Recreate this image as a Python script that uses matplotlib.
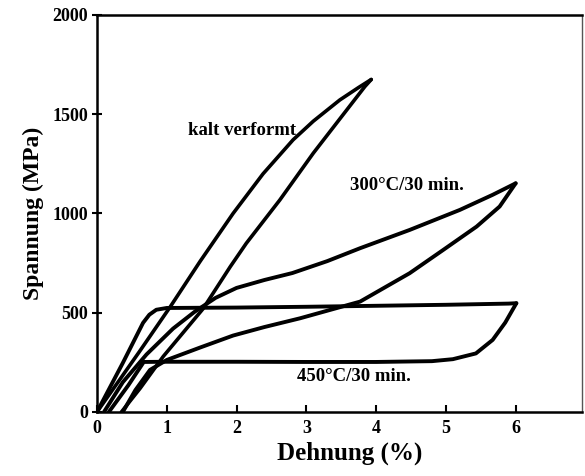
import matplotlib.pyplot as plt

# strain (%) / stress (MPa)
kalt_load_x = [0.0, 0.28, 0.6, 1.05, 1.48, 1.95, 2.38, 2.81, 3.1, 3.48, 3.75, 3.93]
kalt_load_y = [0, 140, 300, 530, 760, 1000, 1200, 1371, 1465, 1572, 1635, 1675]
kalt_unload_x = [3.93, 3.84, 3.58, 3.1, 2.62, 2.14, 1.91, 1.52, 0.95, 0.62, 0.35]
kalt_unload_y = [1675, 1640, 1522, 1304, 1068, 850, 732, 520, 280, 120, 0]

c300_load_x = [0.1, 0.37, 0.71, 1.09, 1.4, 1.7, 2.0, 2.4, 2.8, 3.3, 3.77, 4.48, 5.2, 5.67, 6.0]
c300_load_y = [0, 150, 290, 420, 505, 575, 625, 665, 700, 760, 825, 917, 1018, 1094, 1152]
c300_unload_x = [6.0, 5.77, 5.44, 4.96, 4.48, 3.77, 3.4, 2.91, 2.4, 1.95, 1.48, 1.0, 0.76, 0.55, 0.37]
c300_unload_y = [1152, 1035, 934, 816, 699, 556, 520, 472, 428, 385, 325, 262, 212, 110, 0]

c450_load_x = [0.0, 0.37, 0.66, 0.75, 0.85, 1.0, 2.0, 3.0, 4.0, 5.0, 5.9, 6.01]
c450_load_y = [0, 247, 449, 490, 515, 524, 526, 530, 535, 540, 546, 548]
c450_unload_x = [6.01, 5.85, 5.67, 5.43, 5.1, 4.8, 4.0, 3.0, 2.0, 1.0, 0.67, 0.45, 0.17]
c450_unload_y = [548, 450, 363, 295, 266, 256, 252, 252, 253, 253, 252, 135, 0]

plt.rcParams['font.family'] = ['Liberation Serif', 'DejaVu Serif']
plt.rcParams['font.weight'] = 'bold'

fig = plt.figure(figsize=(5.85, 4.76), dpi=100)
ax = fig.add_axes([0.1658, 0.1345, 0.829, 0.834])

for xs, ys, lw in [(kalt_load_x, kalt_load_y, 2.6), (kalt_unload_x, kalt_unload_y, 2.6),
                   (c300_load_x, c300_load_y, 2.8), (c300_unload_x, c300_unload_y, 2.8),
                   (c450_load_x, c450_load_y, 2.8), (c450_unload_x, c450_unload_y, 2.8)]:
    ax.plot(xs, ys, color='black', lw=lw, solid_joinstyle='round', solid_capstyle='round')

ax.text(1.3, 1416, 'kalt verformt', fontsize=13.5, fontweight='bold', va='center')
ax.text(3.62, 1139, '300°C/30 min.', fontsize=13.5, fontweight='bold', va='center')
ax.text(2.87, 181, '450°C/30 min.', fontsize=13.5, fontweight='bold', va='center')

ax.set_xlim(0, 6.95)
ax.set_ylim(0, 2000)
ax.set_xticks([0, 1, 2, 3, 4, 5, 6])
ax.set_yticks([0, 500, 1000, 1500, 2000])
ax.tick_params(axis='x', direction='in', length=5, width=1.5, labelsize=13, pad=6)
ax.tick_params(axis='y', direction='inout', length=7, width=1.5, labelsize=13, pad=3)
for lab in ax.get_xticklabels() + ax.get_yticklabels():
    lab.set_fontweight('bold')
for side in ['left', 'bottom', 'top']:
    ax.spines[side].set_linewidth(1.8)
ax.spines['right'].set_linewidth(1.0)
ax.spines['right'].set_color('#555555')

ax.set_xlabel('Dehnung (%)', fontsize=18, fontweight='bold', labelpad=4)
ax.xaxis.set_label_coords(0.522, -0.075)
ax.set_ylabel('Spannung (MPa)', fontsize=17, fontweight='bold', labelpad=6)

fig.savefig('out.png', dpi=100)
